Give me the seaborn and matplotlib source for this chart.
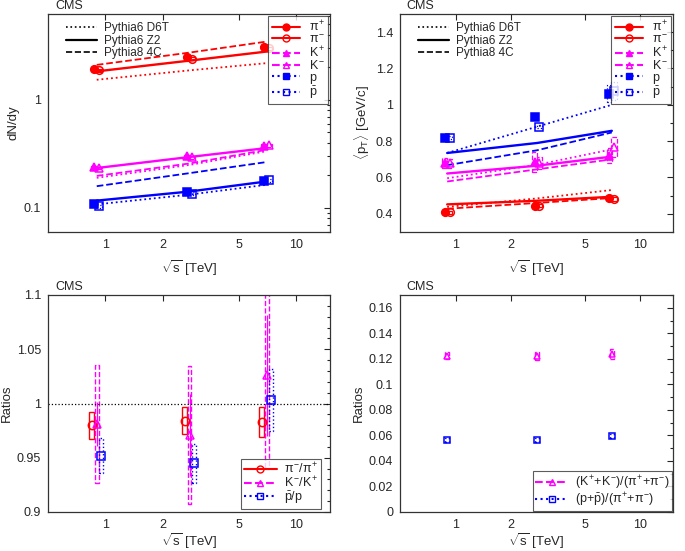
import numpy as np
import pandas as pd
import matplotlib
matplotlib.use("Agg")
import matplotlib.pyplot as plt
import seaborn as sns
from matplotlib.patches import Rectangle
from matplotlib.lines import Line2D
from matplotlib.ticker import FixedLocator, FuncFormatter, MultipleLocator, LogLocator, NullLocator

sns.set_style("white")
plt.rcParams['font.family'] = ['Liberation Sans', 'DejaVu Sans']
plt.rcParams['mathtext.fontset'] = 'custom'
plt.rcParams['mathtext.rm'] = 'Liberation Sans'
plt.rcParams['mathtext.it'] = 'Liberation Sans'
plt.rcParams['mathtext.bf'] = 'Liberation Sans:bold'
plt.rcParams['font.size'] = 9

energies = [0.9, 2.76, 7.0]

# dN/dy data
dndy_pip = [1.92, 2.46, 3.04]
dndy_pim = [1.87, 2.39, 3.00]
dndy_kp = [0.237, 0.300, 0.376]
dndy_km = [0.234, 0.294, 0.380]
dndy_p = [0.109, 0.140, 0.179]
dndy_pbar = [0.1035, 0.135, 0.180]

# dN/dy models (pi, K, p)
d6t_dndy_pi = [1.53, 1.87, 2.18]
d6t_dndy_k = [0.19, 0.25, 0.335]
d6t_dndy_p = [0.108, 0.133, 0.164]
z2_dndy_pi = [1.83, 2.30, 2.79]
z2_dndy_k = [0.234, 0.296, 0.358]
z2_dndy_p = [0.117, 0.142, 0.176]
c4_dndy_pi = [2.10, 2.73, 3.45]
c4_dndy_k = [0.198, 0.258, 0.345]
c4_dndy_p = [0.159, 0.21, 0.266]

# <pT> data
pt_pip = [0.409, 0.443, 0.485]
pt_pim = [0.408, 0.445, 0.480]
pt_kp = [0.680, 0.685, 0.720]
pt_km = [0.678, 0.680, 0.770]
pt_p = [0.820, 0.935, 1.062]
pt_pbar = [0.820, 0.880, 1.078]
pt_sys_pi = [0.008, 0.008, 0.010]
pt_sys_kp = [0.025, 0.055, 0.04]
pt_sys_km = [0.025, 0.035, 0.055]
pt_sys_p = [0.01, 0.015, 0.045]
pt_sys_pbar = [0.01, 0.01, 0.05]

# <pT> models
d6t_pt_pi = [0.438, 0.485, 0.531]
d6t_pt_k = [0.596, 0.67, 0.755]
d6t_pt_p = [0.735, 0.88, 1.00]
z2_pt_pi = [0.452, 0.472, 0.494]
z2_pt_k = [0.622, 0.665, 0.715]
z2_pt_p = [0.735, 0.79, 0.857]
c4_pt_pi = [0.428, 0.46, 0.487]
c4_pt_k = [0.578, 0.645, 0.70]
c4_pt_p = [0.668, 0.75, 0.848]

# antiparticle / particle ratios
ratio_pi = [0.980, 0.984, 0.983]
ratio_pi_sys = [0.0125, 0.0125, 0.0135]
ratio_k = [0.981, 0.971, 1.026]
ratio_k_stat = [0.02, 0.038, 0.056]
ratio_k_sys = [0.0545, 0.0635, 0.086]
ratio_p = [0.952, 0.945, 1.003]
ratio_p_sys = [0.016, 0.018, 0.0285]

# particle / pion ratios
k_pi = [0.1225, 0.1220, 0.1235]
k_pi_sys = [0.003, 0.003, 0.004]
p_pi = [0.0561, 0.0566, 0.0595]
p_pi_sys = [0.0015, 0.0015, 0.0015]

RED, MAG, BLUE = '#ff0000', '#ff00ff', '#0000ff'
W, H = 685, 551
fig = plt.figure(figsize=(6.85, 5.51), dpi=100)


def add_ax(l, t, r, b):
    return fig.add_axes([l / W, 1 - b / H, (r - l) / W, (b - t) / H])


ax1 = add_ax(48, 14, 330, 232)
ax2 = add_ax(400, 14, 673, 232)
ax3 = add_ax(48, 295, 330, 512)
ax4 = add_ax(400, 295, 673, 512)

gfmt = FuncFormatter(lambda v, p: '%g' % v)


def style_axes(ax, ylabel, xpad):
    ax.set_xscale('log')
    ax.set_xlim(0.5, 15)
    ax.xaxis.set_major_locator(FixedLocator([1, 2, 5, 10]))
    ax.xaxis.set_minor_locator(NullLocator())
    ax.xaxis.set_major_formatter(gfmt)
    ax.tick_params(which='both', direction='in', top=True, right=True, labelsize=9, width=0.8, pad=5)
    ax.tick_params(which='major', length=4)
    ax.tick_params(which='minor', length=2)
    for s in ax.spines.values():
        s.set_color('#333333')
        s.set_linewidth(0.9)
    ax.set_xlabel(r'$\sqrt{s}$ [TeV]', fontsize=9.5, labelpad=xpad)
    ax.set_ylabel(ylabel, fontsize=9.5, labelpad=3)
    ax.text(0.025, 1.01, 'CMS', transform=ax.transAxes, fontsize=9, va='bottom', ha='left')


def box(ax, x, y, e, color, ls, fx=0.035, lw=0.9):
    ax.add_patch(Rectangle((x * (1 - fx), y - e), x * 2 * fx, 2 * e, fill=False,
                           edgecolor=color, linestyle=ls, linewidth=lw))


def model(ax, y, color, ls, lw=1.3):
    df = pd.DataFrame({'x': energies, 'y': y})
    sns.lineplot(data=df, x='x', y='y', ax=ax, color=color, linestyle=ls, linewidth=lw)


def points(ax, xs, ys, color, marker, filled, ms=5.5):
    ax.plot(xs, ys, linestyle='none', marker=marker, markersize=ms, color=color,
            markerfacecolor=color if filled else 'none', markeredgewidth=1.1, zorder=5)


def shift(f):
    return [e * f for e in energies]


species_handles = [
    Line2D([], [], color=RED, ls='-', marker='o', ms=5, label=r'$\pi^{+}$'),
    Line2D([], [], color=RED, ls='-', marker='o', mfc='none', ms=5, label=r'$\pi^{-}$'),
    Line2D([], [], color=MAG, ls='--', marker='^', ms=5, label=r'$K^{+}$'),
    Line2D([], [], color=MAG, ls='--', marker='^', mfc='none', ms=5, label=r'$K^{-}$'),
    Line2D([], [], color=BLUE, ls=':', marker='s', ms=5, label=r'$p$'),
    Line2D([], [], color=BLUE, ls=':', marker='s', mfc='none', ms=5, label=r'$\bar{p}$'),
]
model_handles = [
    Line2D([], [], color='black', ls=':', lw=1.2, label='Pythia6 D6T'),
    Line2D([], [], color='black', ls='-', lw=1.6, label='Pythia6 Z2'),
    Line2D([], [], color='black', ls='--', lw=1.2, label='Pythia8 4C'),
]


def add_legends(ax):
    leg1 = ax.legend(handles=model_handles, loc='upper left', frameon=False, fontsize=8.5,
                     handlelength=2.6, labelspacing=0.05, borderaxespad=0.3, handletextpad=0.6,
                     bbox_to_anchor=(0.035, 1.0))
    ax.add_artist(leg1)
    leg2 = ax.legend(handles=species_handles, loc='upper right', frameon=True, fontsize=9,
                     handlelength=2.3, labelspacing=-0.06, borderaxespad=0.15, handletextpad=0.7,
                     fancybox=False, borderpad=0.25)
    leg2.get_frame().set_edgecolor('#333333')
    leg2.get_frame().set_linewidth(0.8)


# ---- panel 1: dN/dy
for col, d6, z2, c4 in [(RED, d6t_dndy_pi, z2_dndy_pi, c4_dndy_pi),
                        (MAG, d6t_dndy_k, z2_dndy_k, c4_dndy_k),
                        (BLUE, d6t_dndy_p, z2_dndy_p, c4_dndy_p)]:
    model(ax1, d6, col, ':')
    model(ax1, z2, col, '-', 1.7)
    model(ax1, c4, col, '--')
for ys, col, mk, filled, ls, f in [(dndy_pip, RED, 'o', True, '-', 0.97), (dndy_pim, RED, 'o', False, '-', 1.03),
                                   (dndy_kp, MAG, '^', True, '--', 0.97), (dndy_km, MAG, '^', False, '--', 1.03),
                                   (dndy_p, BLUE, 's', True, ':', 0.97), (dndy_pbar, BLUE, 's', False, ':', 1.03)]:
    xs = shift(f)
    for x, y in zip(xs, ys):
        box(ax1, x, y, y * 0.03, col, ls)
    points(ax1, xs, ys, col, mk, filled)
style_axes(ax1, 'dN/dy', 5)
ax1.set_yscale('log')
ax1.set_ylim(0.06, 6.2)
ax1.yaxis.set_major_locator(FixedLocator([0.1, 1]))
ax1.yaxis.set_minor_locator(LogLocator(base=10, subs=np.arange(2, 10)))
ax1.yaxis.set_major_formatter(gfmt)
ax1.yaxis.set_minor_formatter(FuncFormatter(lambda v, p: ''))
add_legends(ax1)

# ---- panel 2: <pT>
for col, d6, z2, c4 in [(RED, d6t_pt_pi, z2_pt_pi, c4_pt_pi),
                        (MAG, d6t_pt_k, z2_pt_k, c4_pt_k),
                        (BLUE, d6t_pt_p, z2_pt_p, c4_pt_p)]:
    model(ax2, d6, col, ':')
    model(ax2, z2, col, '-', 1.7)
    model(ax2, c4, col, '--')
for ys, es, col, mk, filled, ls, f in [(pt_pip, pt_sys_pi, RED, 'o', True, '-', 0.97),
                                       (pt_pim, pt_sys_pi, RED, 'o', False, '-', 1.03),
                                       (pt_kp, pt_sys_kp, MAG, '^', True, '--', 0.97),
                                       (pt_km, pt_sys_km, MAG, '^', False, '--', 1.03),
                                       (pt_p, pt_sys_p, BLUE, 's', True, ':', 0.97),
                                       (pt_pbar, pt_sys_pbar, BLUE, 's', False, ':', 1.03)]:
    xs = shift(f)
    for x, y, e in zip(xs, ys, es):
        box(ax2, x, y, e, col, ls)
    points(ax2, xs, ys, col, mk, filled)
style_axes(ax2, r'$\langle p_{T}\rangle$ [GeV/c]', 5)
ax2.set_ylim(0.3, 1.5)
ax2.yaxis.set_major_locator(MultipleLocator(0.2))
ax2.yaxis.set_minor_locator(MultipleLocator(0.1))
ax2.yaxis.set_major_formatter(gfmt)
add_legends(ax2)

# ---- panel 3: antiparticle/particle ratios
ax3.axhline(1.0, color='black', ls=':', lw=0.9)
for ys, sys_, col, mk, ls, f, fx in [(ratio_pi, ratio_pi_sys, RED, 'o', '-', 0.94, 0.03),
                                     (ratio_k, ratio_k_sys, MAG, '^', '--', 1.0, 0.022),
                                     (ratio_p, ratio_p_sys, BLUE, 's', ':', 1.055, 0.025)]:
    xs = shift(f)
    for x, y, e in zip(xs, ys, sys_):
        box(ax3, x, y, e, col, ls, fx=fx, lw=1.0)
    if col == MAG:
        ax3.errorbar(xs, ys, yerr=ratio_k_stat, fmt='none', ecolor=col, elinewidth=0.8, ls='--')
    points(ax3, xs, ys, col, mk, False, ms=6)
style_axes(ax3, 'Ratios', 0)
ax3.set_ylim(0.9, 1.1)
ax3.yaxis.set_major_locator(MultipleLocator(0.05))
ax3.yaxis.set_minor_locator(MultipleLocator(0.01))
ax3.yaxis.set_major_formatter(gfmt)
h3 = [Line2D([], [], color=RED, ls='-', marker='o', mfc='none', ms=5, label=r'$\pi^{-}/\pi^{+}$'),
      Line2D([], [], color=MAG, ls='--', marker='^', mfc='none', ms=5, label=r'$K^{-}/K^{+}$'),
      Line2D([], [], color=BLUE, ls=':', marker='s', mfc='none', ms=5, label=r'$\bar{p}/p$')]
leg3 = ax3.legend(handles=h3, loc='lower right', frameon=True, fancybox=False, fontsize=9,
                  handlelength=2.6, labelspacing=-0.1, borderaxespad=0.25, borderpad=0.25, handletextpad=0.6,
                  bbox_to_anchor=(0.98, 0.0))
leg3.get_frame().set_edgecolor('#333333')
leg3.get_frame().set_linewidth(0.8)

# ---- panel 4: particle/pion ratios
for ys, sys_, col, mk, ls in [(k_pi, k_pi_sys, MAG, '^', '--'), (p_pi, p_pi_sys, BLUE, 's', ':')]:
    for x, y, e in zip(energies, ys, sys_):
        box(ax4, x, y, e, col, ls, fx=0.025, lw=1.0)
    points(ax4, energies, ys, col, mk, False, ms=5)
style_axes(ax4, 'Ratios', 0)
ax4.set_ylim(0, 0.17)
ax4.yaxis.set_major_locator(MultipleLocator(0.02))
ax4.yaxis.set_minor_locator(MultipleLocator(0.01))
ax4.yaxis.set_major_formatter(gfmt)
h4 = [Line2D([], [], color=MAG, ls='--', marker='^', mfc='none', ms=5, label=r'$(K^{+}{+}K^{-})/(\pi^{+}{+}\pi^{-})$'),
      Line2D([], [], color=BLUE, ls=':', marker='s', mfc='none', ms=5, label=r'$(p{+}\bar{p})/(\pi^{+}{+}\pi^{-})$')]
leg4 = ax4.legend(handles=h4, loc='lower right', frameon=True, fancybox=False, fontsize=9,
                  handlelength=2.6, labelspacing=-0.1, borderaxespad=0.05, borderpad=0.2, handletextpad=0.6)
leg4.get_frame().set_edgecolor('#333333')
leg4.get_frame().set_linewidth(0.8)

fig.savefig('out.png', dpi=100)
